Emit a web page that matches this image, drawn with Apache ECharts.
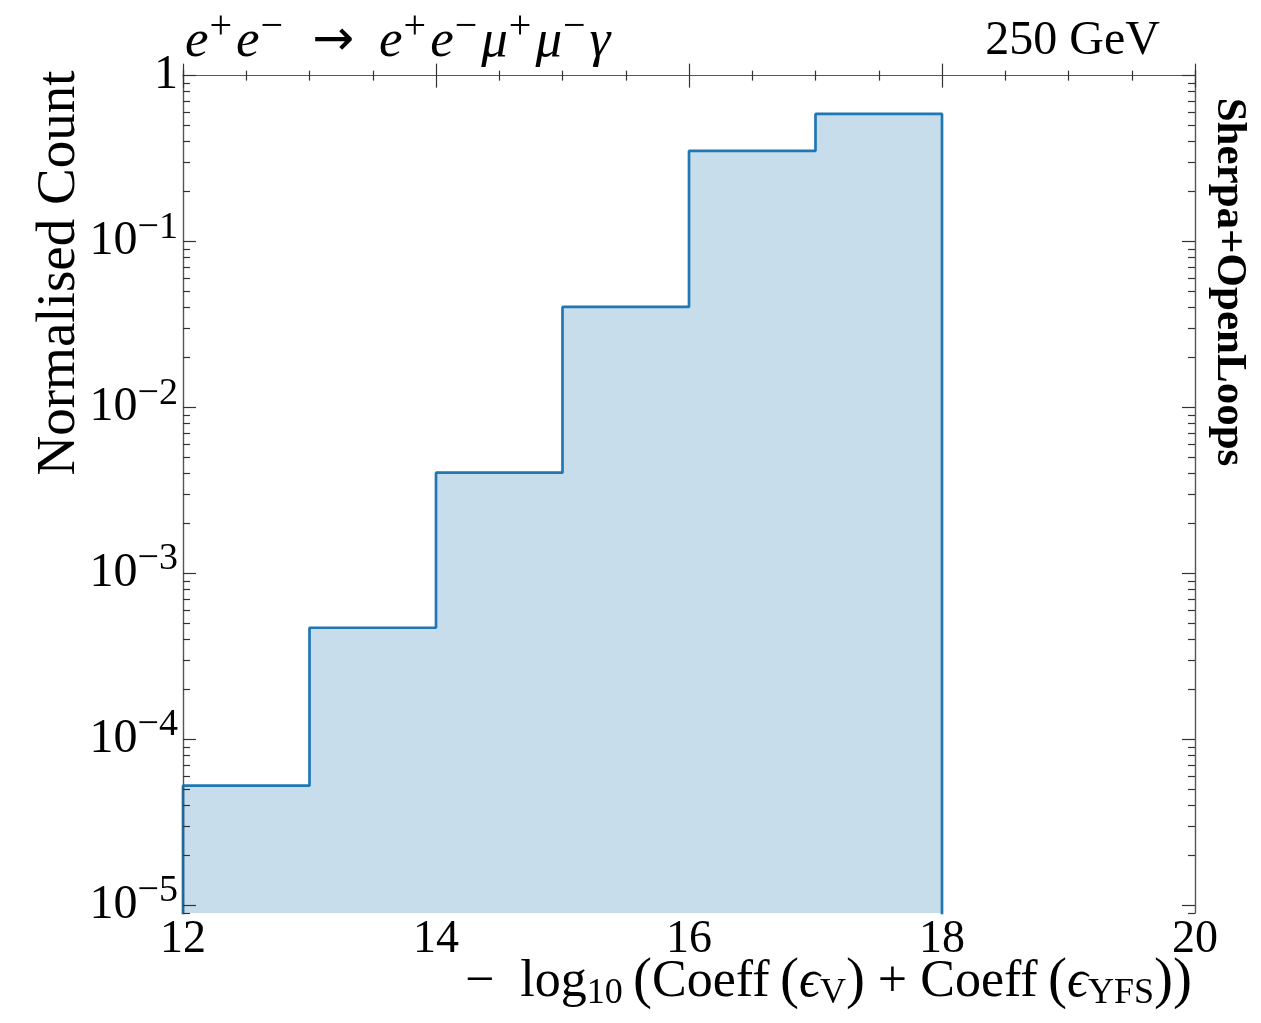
<!DOCTYPE html>
<html>
<head>
<meta charset="utf-8">
<title>Normalised count histogram</title>
<script src="https://cdn.jsdelivr.net/npm/echarts@6/dist/echarts.min.js"></script>
<style>
  html, body { margin: 0; padding: 0; background: #fff; }
  #chart { width: 1261px; height: 1023px; }
</style>
</head>
<body>
<div id="chart"></div>
<script>
// bin edges of the histogram (x = -log10(...))
const binEdges = [12, 13, 14, 15, 16, 17, 18]
// normalised count per bin
const counts = [5.26e-5, 4.71e-4, 4.05e-3, 0.0404, 0.352, 0.588]
// decade ticks (log10 of the value)
const majorTicks = [-5, -4, -3, -2, -1, 0]

const serif = '"Liberation Serif", "DejaVu Serif", serif'
const yMin = -5.046
const yMax = 0.034

// minor ticks 2..9 in every decade
const minorTicks = []
for (let n = -6; n <= 0; n++) {
  for (let k = 2; k <= 9; k++) {
    const v = Math.log10(k) + n
    if (v > yMin && v < yMax) minorTicks.push(v)
  }
}

// step outline: start and end drop to below the axis floor
const floor = -6
const stepData = [[binEdges[0], floor]]
counts.forEach((c, i) => stepData.push([binEdges[i], Math.log10(c)]))
stepData.push([binEdges[binEdges.length - 1], Math.log10(counts[counts.length - 1])])
stepData.push([binEdges[binEdges.length - 1], floor])

const frameLine = { show: true, lineStyle: { color: '#555', width: 1.2 } }
const tickLine = { color: '#333', width: 1.2 }

function yAxis(position, values, len, withLabels) {
  return {
    type: 'value',
    position: position,
    min: yMin,
    max: yMax,
    z: 5,
    splitLine: { show: false },
    axisLine: frameLine,
    axisTick: { show: true, inside: true, length: len, customValues: values, lineStyle: tickLine },
    axisLabel: withLabels ? {
      show: true,
      customValues: majorTicks,
      margin: 5,
      color: '#000',
      fontFamily: serif,
      fontSize: 48,
      lineHeight: 52,
      formatter: v => Math.round(v) === 0 ? '1' : '10{s|−' + Math.abs(Math.round(v)) + '}',
      rich: {
        s: { fontSize: 38, fontFamily: serif, color: '#000', padding: [0, 0, 28, 0] }
      }
    } : { show: false }
  }
}

function xAxis(position, withLabels) {
  return {
    type: 'value',
    position: position,
    min: 12,
    max: 20,
    interval: 2,
    z: 5,
    splitLine: { show: false },
    axisLine: frameLine,
    axisTick: { show: true, inside: true, length: 12, lineStyle: tickLine },
    minorTick: { show: true, splitNumber: 4, length: 5, lineStyle: tickLine },
    axisLabel: withLabels ? {
      show: true,
      margin: 4,
      color: '#000',
      fontFamily: serif,
      fontSize: 46
    } : { show: false }
  }
}

const chart = echarts.init(document.getElementById('chart'))
chart.setOption({
  backgroundColor: '#fff',
  animation: false,
  grid: { left: 183, top: 70, right: 66, bottom: 110 },
  title: [
    {
      left: 180,
      top: 2,
      text: '{i|e}{s|+}{i|e}{s|−}{r|\u2002→\u2002}{i|e}{s|+}{i|e}{s|−}{i|μ}{s|+}{i|μ}{s|−}{i|γ}',
      textStyle: {
        fontWeight: 'normal',
        rich: {
          i: { fontFamily: serif, fontStyle: 'italic', fontWeight: 'normal', fontSize: 53, color: '#000', lineHeight: 58 },
          r: { fontFamily: '"DejaVu Sans", sans-serif', fontWeight: 'normal', fontSize: 50, color: '#000', lineHeight: 58 },
          s: { fontFamily: serif, fontWeight: 'normal', fontSize: 40, color: '#000', padding: [0, 4, 30, 1] }
        }
      }
    },
    {
      right: 96,
      top: 12,
      text: '250 GeV',
      textStyle: { fontFamily: serif, fontSize: 48, fontWeight: 'normal', color: '#000' }
    }
  ],
  graphic: [
    {
      type: 'text',
      x: 60,
      y: 273,
      rotation: Math.PI / 2,
      style: {
        text: 'Normalised Count',
        fontFamily: serif,
        fontSize: 55,
        fill: '#000',
        align: 'center',
        verticalAlign: 'middle'
      }
    },
    {
      type: 'text',
      x: 1229,
      y: 282,
      rotation: -Math.PI / 2,
      style: {
        text: 'Sherpa+OpenLoops',
        fontFamily: serif,
        fontWeight: 'bold',
        fontSize: 43,
        fill: '#000',
        align: 'center',
        verticalAlign: 'middle'
      }
    },
    {
      type: 'text',
      x: 1192,
      y: 982,
      style: {
        text: '−\u2002log{sub|10}\u2009{p|(}Coeff\u2009{p|(}{e|ϵ}{sub|V}{p|)} + Coeff\u2009{p|(}{e|ϵ}{sub|YFS}{p|)}{p|)}',
        fontFamily: serif,
        fontSize: 52,
        fill: '#000',
        align: 'right',
        verticalAlign: 'middle',
        rich: {
          sub: { fontFamily: serif, fontSize: 36, fill: '#000', padding: [24, 0, 0, 0] },
          e: { fontFamily: serif, fontStyle: 'italic', fontSize: 52, fill: '#000' },
          p: { fontFamily: serif, fontSize: 57, fill: '#000' }
        }
      }
    }
  ],
  xAxis: [xAxis('bottom', true), xAxis('top', false)],
  yAxis: [
    yAxis('left', majorTicks, 13, true),
    yAxis('left', minorTicks, 7, false),
    yAxis('right', majorTicks, 13, false),
    yAxis('right', minorTicks, 7, false)
  ],
  series: [
    {
      type: 'line',
      step: 'end',
      xAxisIndex: 0,
      yAxisIndex: 0,
      data: stepData,
      showSymbol: false,
      symbol: 'none',
      clip: true,
      lineStyle: { color: '#1f77b4', width: 2.7 },
      areaStyle: { color: '#c7ddec', opacity: 1, origin: 'start' }
    }
  ]
})
</script>
</body>
</html>
